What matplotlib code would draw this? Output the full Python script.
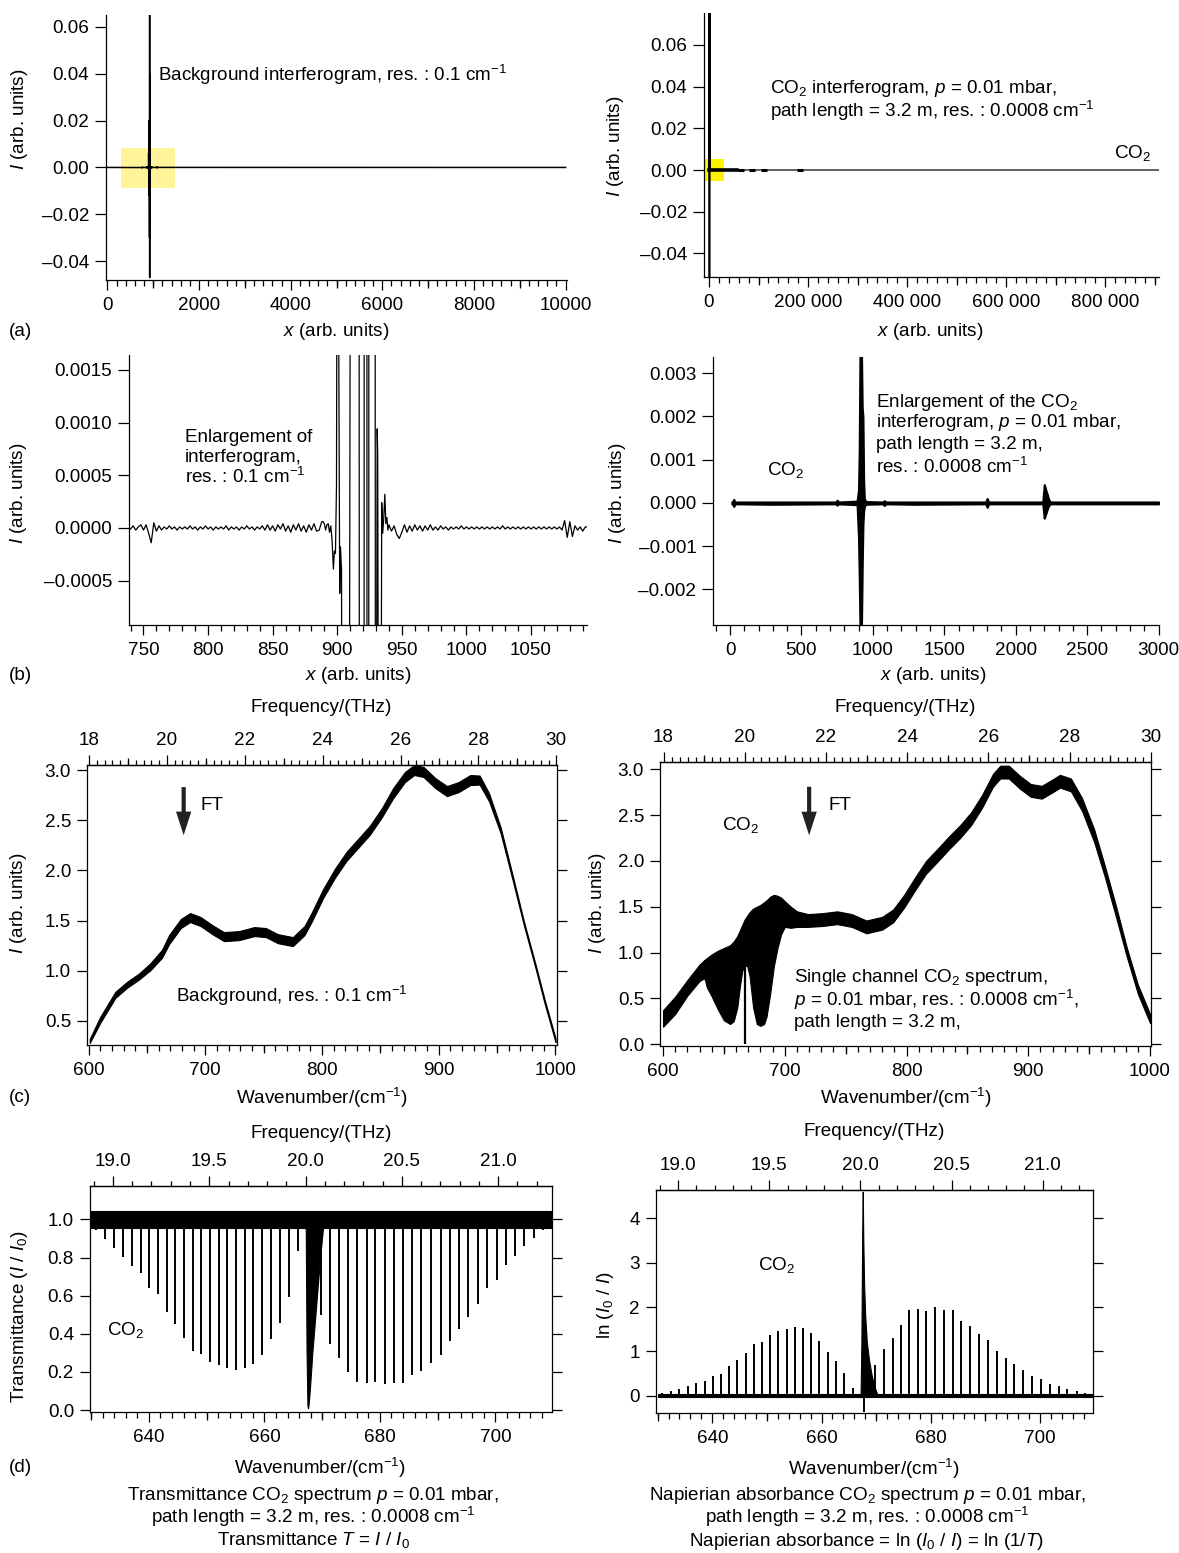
import numpy as np
import matplotlib
matplotlib.use("Agg")
import matplotlib.pyplot as plt
from matplotlib.ticker import MultipleLocator, FixedLocator, FuncFormatter

plt.rcParams["font.family"] = ["Liberation Sans", "DejaVu Sans"]
plt.rcParams["mathtext.fontset"] = "custom"
plt.rcParams["mathtext.rm"] = "Liberation Sans"
plt.rcParams["mathtext.it"] = "Liberation Sans:italic"
plt.rcParams["mathtext.bf"] = "Liberation Sans:bold"
plt.rcParams["font.size"] = 13.6
plt.rcParams["axes.linewidth"] = 0.9

# ---------------- background interferogram, res. 0.1 cm-1 ----------------
bg_scan_x = [0, 10000]                      # flat ends of the scan
# samples on x = 740, 742, ... 888 (units of 1e-5)
bg_left_y = [-1, 2, -2, 1, 3, -2, 3, -5, -14, 5,
             -3, 2, -2, 1, -1, 2, -1, 1, -2, 1,
             -1, 1, -1, 2, -1, 1, -2, 1, -1, 2,
             -1, 1, -2, 1, -1, 1, -1, 2, -2, 1,
             -1, 1, -2, 1, -1, 2, -1, 1, -2, 1,
             -1, 2, -2, 3, -2, 2, -3, 3, -1, 4,
             -3, 2, -4, 3, -2, 4, -3, 2, -4, 3,
             -2, 4, -3, -2, 6]
# centre burst
bg_burst_x = [889, 890, 891, 892, 893, 894, 895, 896, 897, 897.8,
              898.6, 899.4, 900.3, 901.2, 901.9, 902.5, 903.3, 904.2, 908, 912.5,
              916.5, 917.5, 920.5, 921.5, 922.5, 923.3, 924.2, 925.2, 928.8, 929.6,
              930.9, 931.3, 932.3, 933.6, 934.4, 935.2, 936.0, 936.8, 937.6, 938.4,
              939.2, 940.0]
bg_burst_y = [6e-5, 4e-5, -2e-5, 3e-5, 4e-5, -4e-5, 2e-5, -12e-5, -39e-5, -22e-5,
              -24e-5, 40e-5, 0.006, 0.0016, -62e-5, -18e-5, -40e-5, -0.006, -0.012, 0.02,
              0.015, -0.015, -0.03, 0.07, 0.07, -0.047, -0.01, 0.04, 0.02, -0.006,
              94e-5, 70e-5, -0.005, -0.004, 24e-5, -5e-5, 10e-5, 32e-5, 4e-5, 10e-5,
              -2e-5, 3e-5]
# samples on x = 942, 944, ... 1092 (units of 1e-5)
bg_right_y = [-3, 2, -6, -10, -4, 3, -4, 2, -3, 3,
              -2, 2, -3, 2, -2, 3, -2, 1, -2, 2,
              -1, 1, -2, 1, -1, 1, -1, 2, -1, 1,
              -1, 1, -1, 1, -1, 1, -1, 1, -1, 1,
              -1, 1, -1, 2, -1, 1, -1, 1, -1, 1,
              -1, 1, -1, 1, -1, 1, -1, 1, -1, 1,
              -1, 1, -1, 1, -1, 1, -2, 7, -9, 6,
              -8, 2, -2, 1, -3, 1]
bg_zoom_box = [300, 1480, -0.0089, 0.0085]

# ---------------- CO2 interferogram, res. 0.0008 cm-1 ----------------
co2_scan_x = [0, 912000]
co2_dense_x = [0, 57000]
co2_spots_x = [64000, 87000, 112000, 183000]
co2_burst_full_x = [880, 915, 920, 925, 960]
co2_burst_full_y = [0.0, 0.09, -0.07, 0.09, 0.0]
co2_zoom_box = [-8000, 30300, -0.0053, 0.0053]

# enlargement: envelope of the trace (units of 1e-4)
co2_ifg_x = [13, 20, 26, 32, 40, 300, 740, 750, 760, 890,
             900, 905, 910, 915, 920, 925, 930, 935, 940, 950,
             1070, 1080, 1090, 1300, 1790, 1800, 1810, 2190, 2200, 2210,
             2220, 2230, 2240, 2250, 3000]
co2_ifg_hi = [0.2, 0.3, 0.8, 0.3, 0.2, 0.2, 0.2, 0.6, 0.2, 0.4,
              3, 12, 34, 34, 34, 22, 20, 5, 1, 0.3,
              0.2, 0.5, 0.2, 0.2, 0.2, 1.0, 0.2, 0.2, 4.2, 3.0,
              2.0, 0.8, 0.3, 0.2, 0.2]
co2_ifg_lo = [-0.2, -0.3, -0.8, -0.3, -0.2, -0.3, -0.2, -0.5, -0.2, -0.4,
              -8, -17, -28, -28, -28, -15, -5, -2, -0.8, -0.3,
              -0.2, -0.6, -0.2, -0.3, -0.2, -1.0, -0.2, -0.2, -3.5, -2.5,
              -1.5, -0.6, -0.3, -0.2, -0.2]

# ---------------- background single channel spectrum ----------------
bg_spec_wn = [601, 610, 623, 633, 643, 653, 663, 669, 679, 687,
              696, 706, 716, 729, 742, 752, 762, 775, 785, 791,
              801, 811, 821, 831, 841, 851, 861, 871, 879, 887,
              897, 907, 917, 927, 935, 943, 953, 963, 973, 983,
              991, 1000]
bg_spec_mid = [0.30, 0.51, 0.76, 0.86, 0.94, 1.04, 1.17, 1.31, 1.47, 1.53,
               1.49, 1.41, 1.34, 1.35, 1.39, 1.38, 1.32, 1.29, 1.40, 1.53,
               1.77, 1.97, 2.14, 2.27, 2.40, 2.57, 2.77, 2.93, 3.00, 2.98,
               2.87, 2.79, 2.83, 2.90, 2.90, 2.73, 2.40, 1.94, 1.47, 1.04,
               0.68, 0.31]
bg_spec_half = [0.02, 0.03, 0.03, 0.03, 0.03, 0.035, 0.04, 0.045, 0.045, 0.045,
                0.045, 0.045, 0.045, 0.045, 0.045, 0.045, 0.045, 0.045, 0.045, 0.045,
                0.045, 0.045, 0.045, 0.045, 0.045, 0.045, 0.05, 0.05, 0.05, 0.05,
                0.05, 0.05, 0.05, 0.05, 0.045, 0.04, 0.03, 0.025, 0.02, 0.02,
                0.02, 0.02]

# ---------------- CO2 single channel spectrum ----------------
co2_sc_wn = [600, 610, 620, 630, 634, 636, 640, 645, 650, 655,
             658, 661, 663, 665, 667, 669, 671, 674, 677, 680,
             683, 685, 688, 691, 694, 697, 700, 705, 710, 719,
             731, 743, 755, 767, 780, 789, 798, 807, 816, 826,
             835, 844, 853, 862, 871, 877, 884, 893, 902, 911,
             920, 926, 935, 944, 954, 963, 972, 981, 990, 1000]
co2_sc_hi = [0.37, 0.52, 0.70, 0.87, 0.92, 0.94, 0.98, 1.02, 1.05, 1.08,
             1.12, 1.18, 1.24, 1.30, 1.36, 1.40, 1.44, 1.48, 1.50, 1.52,
             1.55, 1.57, 1.61, 1.63, 1.62, 1.60, 1.56, 1.50, 1.45, 1.42,
             1.43, 1.45, 1.42, 1.35, 1.39, 1.47, 1.63, 1.82, 2.00, 2.14,
             2.27, 2.39, 2.53, 2.72, 2.95, 3.04, 3.04, 2.93, 2.84, 2.82,
             2.89, 2.94, 2.90, 2.69, 2.35, 1.94, 1.51, 1.05, 0.65, 0.33]
co2_sc_lo = [0.19, 0.33, 0.53, 0.69, 0.72, 0.62, 0.52, 0.38, 0.26, 0.22,
             0.25, 0.40, 0.62, 0.80, 0.85, 0.86, 0.75, 0.40, 0.22, 0.20,
             0.22, 0.30, 0.55, 0.85, 1.05, 1.20, 1.28, 1.27, 1.28, 1.28,
             1.29, 1.31, 1.28, 1.21, 1.25, 1.33, 1.49, 1.68, 1.86, 2.00,
             2.13, 2.25, 2.39, 2.58, 2.81, 2.90, 2.90, 2.79, 2.70, 2.68,
             2.75, 2.80, 2.76, 2.55, 2.21, 1.82, 1.39, 0.95, 0.55, 0.23]
co2_sc_deep_wn = [667.4]
co2_sc_deep_min = [0.0]

# ---------------- nu2 band of CO2: P, Q, R branches ----------------
line_wn = [630.8, 632.4, 634.0, 635.5, 637.1, 638.6, 640.1, 641.6, 643.1, 644.6,
           646.1, 647.6, 649.1, 650.6, 652.1, 653.6, 655.1, 656.6, 658.1, 659.6,
           661.1, 662.7, 664.2, 665.8, 669.8, 671.4, 673.0, 674.5, 676.1, 677.7,
           679.2, 680.8, 682.4, 684.0, 685.6, 687.2, 688.9, 690.5, 692.1, 693.7,
           695.3, 696.9, 698.5, 700.2, 701.8, 703.4, 705.0, 706.7, 708.3]
line_abs = [0.06, 0.11, 0.16, 0.22, 0.28, 0.33, 0.45, 0.50, 0.66, 0.80,
            0.97, 1.17, 1.22, 1.38, 1.45, 1.50, 1.55, 1.52, 1.42, 1.24,
            0.99, 0.78, 0.52, 0.18, 0.70, 1.06, 1.30, 1.60, 1.93, 1.95,
            1.90, 2.00, 1.94, 1.94, 1.69, 1.58, 1.39, 1.25, 1.01, 0.85,
            0.72, 0.59, 0.45, 0.38, 0.27, 0.21, 0.15, 0.10, 0.06]
q_wn = [667.15, 667.3, 667.45, 667.55, 667.65, 667.8, 668.0, 668.3, 668.7, 669.2, 669.7, 670.3]
q_abs = [0.0, 1.2, 3.7, 4.6, 3.5, 2.5, 1.8, 1.2, 0.8, 0.45, 0.2, 0.0]
q_dip_wn = [667.75]
q_dip_abs = [-0.36]
noise_wn = [630, 710]
tr_noise_lo = [0.955, 0.955]
tr_noise_hi = [1.045, 1.045]
ab_noise_lo = [-0.03, -0.03]
ab_noise_hi = [0.04, 0.04]

# ---------------- layout helpers (pixel based) ----------------
W, H = 1179, 1553


def rect(l, t, r, b):
    return [l / W, 1 - b / H, (r - l) / W, (b - t) / H]


def ftext(x, y, s, **kw):
    kw.setdefault("ha", "center")
    kw.setdefault("va", "center")
    fig.text(x / W, 1 - y / H, s, **kw)


def dash_fmt(fmt):
    # tick labels with an en dash for negatives
    return FuncFormatter(lambda v, p: (fmt % v).replace("-", "\u2013"))


def wn2thz(w):
    return np.asarray(w) * 0.0299792458


def thz2wn(f):
    return np.asarray(f) / 0.0299792458


def mid_ticks(ax, positions, location="bottom", functions=None, length=6):
    if functions is None:
        sec = ax.secondary_xaxis(location)
    else:
        sec = ax.secondary_xaxis(location, functions=functions)
    sec.xaxis.set_major_locator(FixedLocator(positions))
    sec.tick_params(direction="out", length=length, width=0.9,
                    labelbottom=False, labeltop=False)
    sec.spines[location].set_visible(False)
    return sec


def open_axes(ax):
    for s in ("top", "right"):
        ax.spines[s].set_visible(False)
    ax.tick_params(axis="y", direction="out", length=8, width=0.9, pad=4)
    ax.tick_params(axis="x", which="major", direction="out", length=7.5, width=0.9, pad=5)
    ax.tick_params(axis="x", which="minor", direction="out", length=4.5, width=0.9)


def boxed_axes(ax, top_ticks, top_minor, top_fmt, top_mid=None):
    ax.tick_params(axis="y", which="major", direction="out", left=True, right=True,
                   length=7.5, width=0.9, pad=4)
    ax.tick_params(axis="x", which="major", direction="out", length=7.5, width=0.9, pad=5)
    ax.tick_params(axis="x", which="minor", direction="out", length=4.5, width=0.9)
    sec = ax.secondary_xaxis("top", functions=(wn2thz, thz2wn))
    sec.xaxis.set_major_locator(FixedLocator(top_ticks))
    sec.xaxis.set_minor_locator(MultipleLocator(top_minor))
    sec.xaxis.set_major_formatter(dash_fmt(top_fmt))
    sec.tick_params(which="major", direction="out", length=7.5, width=0.9, pad=4)
    sec.tick_params(which="minor", direction="out", length=3.5, width=0.9)
    if top_mid is not None:
        mid_ticks(ax, top_mid, location="top", functions=(wn2thz, thz2wn), length=5)


fig = plt.figure(figsize=(W / 100, H / 100), dpi=100)

# ================= (a) left: background interferogram =================
bg_x = np.concatenate([[bg_scan_x[0]], np.arange(740, 889, 2), bg_burst_x,
                       np.arange(942, 1093, 2), [bg_scan_x[1]]])
bg_y = np.concatenate([[0.0], np.array(bg_left_y) * 1e-5, bg_burst_y,
                       np.array(bg_right_y) * 1e-5, [0.0]])

ax = fig.add_axes(rect(106, 15, 567, 280))
open_axes(ax)
ax.fill_between(bg_zoom_box[:2], bg_zoom_box[2], bg_zoom_box[3], color="#fff49a", lw=0, zorder=1)
ax.plot(bg_x, bg_y, color="black", lw=1.1, zorder=2)
ax.set_xlim(-30, 10030)
ax.set_ylim(-0.048, 0.065)
ax.xaxis.set_major_locator(MultipleLocator(2000))
ax.xaxis.set_minor_locator(MultipleLocator(200))
mid_ticks(ax, np.arange(1000, 10000, 2000))
ax.yaxis.set_major_locator(FixedLocator([-0.04, -0.02, 0.0, 0.02, 0.04, 0.06]))
ax.yaxis.set_major_formatter(dash_fmt("%.2f"))
ax.text(1100, 0.0396, r"Background interferogram, res. : 0.1 cm$^{-1}$", va="center")

# ================= (a) right: CO2 interferogram =================
ax = fig.add_axes(rect(704, 13, 1159, 277))
open_axes(ax)
ax.fill_between(co2_zoom_box[:2], co2_zoom_box[2], co2_zoom_box[3], color="#fff200", lw=0, zorder=1)
ax.plot(co2_scan_x, [0, 0], color="#555555", lw=1.3, zorder=2)
ax.plot(co2_dense_x, [0, 0], color="black", lw=2.6, zorder=3)
ax.plot(co2_spots_x, np.zeros(len(co2_spots_x)), "_", color="black", ms=4, mew=2.2, zorder=3)
ax.plot(co2_burst_full_x, co2_burst_full_y, color="black", lw=1.2, zorder=3)
ax.set_xlim(-10100, 909000)
ax.set_ylim(-0.0513, 0.0753)
ax.xaxis.set_major_locator(MultipleLocator(200000))
ax.xaxis.set_minor_locator(MultipleLocator(20000))
ax.xaxis.set_major_formatter(FuncFormatter(lambda v, p: f"{int(round(v)):,}".replace(",", " ")))
mid_ticks(ax, np.arange(100000, 909000, 200000))
ax.yaxis.set_major_locator(FixedLocator([-0.04, -0.02, 0.0, 0.02, 0.04, 0.06]))
ax.yaxis.set_major_formatter(dash_fmt("%.2f"))
ax.text(123000, 0.0389, r"CO$_2$ interferogram, $p$ = 0.01 mbar,", va="center")
ax.text(123000, 0.0285, r"path length = 3.2 m, res. : 0.0008 cm$^{-1}$", va="center")
ax.text(893000, 0.0080, r"CO$_2$", ha="right", va="center")

# ================= (b) left: enlargement of background interferogram =================
ax = fig.add_axes(rect(129, 355, 587, 625))
open_axes(ax)
ax.plot(bg_x, bg_y, color="black", lw=0.9)
ax.set_xlim(738.8, 1093.3)
ax.set_ylim(-0.00092, 0.00164)
ax.xaxis.set_major_locator(MultipleLocator(50))
ax.xaxis.set_minor_locator(MultipleLocator(10))
ax.yaxis.set_major_locator(FixedLocator([-0.0005, 0.0, 0.0005, 0.0010, 0.0015]))
ax.yaxis.set_major_formatter(dash_fmt("%.4f"))
ax.text(782, 0.00086, "Enlargement of", va="center")
ax.text(782, 0.00067, "interferogram,", va="center")
ax.text(782, 0.00048, r"res. : 0.1 cm$^{-1}$", va="center")

# ================= (b) right: enlargement of CO2 interferogram =================
ax = fig.add_axes(rect(713, 357, 1159, 625))
open_axes(ax)
ax.fill_between(co2_ifg_x, np.array(co2_ifg_lo) * 1e-4, np.array(co2_ifg_hi) * 1e-4,
                color="black", lw=1.6, edgecolor="black")
ax.set_xlim(-119, 3003)
ax.set_ylim(-0.00282, 0.00337)
ax.xaxis.set_major_locator(MultipleLocator(500))
ax.xaxis.set_minor_locator(MultipleLocator(100))
ax.yaxis.set_major_locator(FixedLocator([-0.002, -0.001, 0.0, 0.001, 0.002, 0.003]))
ax.yaxis.set_major_formatter(dash_fmt("%.3f"))
for yv, s in zip([0.00231, 0.00185, 0.00134, 0.00083],
                 [r"Enlargement of the CO$_2$", r"interferogram, $p$ = 0.01 mbar,",
                  "path length = 3.2 m,", r"res. : 0.0008 cm$^{-1}$"]):
    ax.text(1024, yv, s, va="center")
ax.text(259, 0.00076, r"CO$_2$", va="center")

# ================= (c) left: background spectrum =================
ax = fig.add_axes(rect(87, 765, 557, 1045))
mid = np.array(bg_spec_mid)
half = np.array(bg_spec_half)
ax.fill_between(bg_spec_wn, mid - half, mid + half, color="black", lw=0.8, edgecolor="black")
ax.set_xlim(598.7, 1001.3)
ax.set_ylim(0.26, 3.05)
ax.xaxis.set_major_locator(MultipleLocator(100))
ax.xaxis.set_minor_locator(MultipleLocator(10))
mid_ticks(ax, [650, 750, 850, 950])
ax.yaxis.set_major_locator(FixedLocator([0.5, 1.0, 1.5, 2.0, 2.5, 3.0]))
ax.yaxis.set_major_formatter(dash_fmt("%.1f"))
boxed_axes(ax, list(range(18, 31, 2)), 0.2, "%d", top_mid=list(range(19, 30, 2)))
ax.annotate("", xy=(681.5, 2.35), xytext=(681.5, 2.83),
            arrowprops=dict(width=3, headwidth=11, headlength=17, color="#222222", lw=0))
ax.text(696, 2.65, "FT", va="center")
ax.text(675, 0.75, r"Background, res. : 0.1 cm$^{-1}$", va="center")

# ================= (c) right: CO2 single channel spectrum =================
ax = fig.add_axes(rect(660, 762, 1151, 1046))
ax.fill_between(co2_sc_wn, co2_sc_lo, co2_sc_hi, color="black", lw=0.8, edgecolor="black")
ax.vlines(co2_sc_deep_wn, co2_sc_deep_min, 0.9, color="black", lw=1.6)
ax.set_xlim(597.5, 1000.8)
ax.set_ylim(-0.02, 3.08)
ax.xaxis.set_major_locator(MultipleLocator(100))
ax.xaxis.set_minor_locator(MultipleLocator(10))
mid_ticks(ax, [650, 750, 850, 950])
ax.yaxis.set_major_locator(FixedLocator([0.0, 0.5, 1.0, 1.5, 2.0, 2.5, 3.0]))
ax.yaxis.set_major_formatter(dash_fmt("%.1f"))
boxed_axes(ax, list(range(18, 31, 2)), 0.2, "%d", top_mid=list(range(19, 30, 2)))
ax.annotate("", xy=(720, 2.28), xytext=(720, 2.81),
            arrowprops=dict(width=3, headwidth=11, headlength=17, color="#222222", lw=0))
ax.text(735.7, 2.61, "FT", va="center")
ax.text(648.8, 2.39, r"CO$_2$", va="center")
ax.text(707.3, 0.73, r"Single channel CO$_2$ spectrum,", va="center")
ax.text(707.3, 0.48, r"$p$ = 0.01 mbar, res. : 0.0008 cm$^{-1}$,", va="center")
ax.text(707.3, 0.24, "path length = 3.2 m,", va="center")

# ================= (d) left: transmittance =================
line_abs_arr = np.array(line_abs)
q_abs_arr = np.array(q_abs)
ax = fig.add_axes(rect(90, 1186, 552, 1412))
ax.fill_between(noise_wn, tr_noise_lo, tr_noise_hi, color="black", lw=0.8, edgecolor="black")
ax.vlines(line_wn, np.exp(-line_abs_arr), 1.0, color="black", lw=1.4)
ax.fill_between(q_wn, np.exp(-q_abs_arr), 1.0, color="black", lw=0.8, edgecolor="black")
ax.set_xlim(629.8, 709.8)
ax.set_ylim(-0.01, 1.175)
ax.xaxis.set_major_locator(MultipleLocator(20))
ax.xaxis.set_minor_locator(MultipleLocator(2))
mid_ticks(ax, [630, 650, 670, 690])
ax.yaxis.set_major_locator(FixedLocator([0.0, 0.2, 0.4, 0.6, 0.8, 1.0]))
ax.yaxis.set_major_formatter(dash_fmt("%.1f"))
boxed_axes(ax, [19.0, 19.5, 20.0, 20.5, 21.0], 0.1, "%.1f")
ax.text(632.7, 0.42, r"CO$_2$", va="center")

# ================= (d) right: Napierian absorbance =================
ax = fig.add_axes(rect(656, 1190, 1093, 1413))
ax.fill_between(noise_wn, ab_noise_lo, ab_noise_hi, color="black", lw=0.8, edgecolor="black")
ax.vlines(line_wn, 0.0, line_abs_arr, color="black", lw=1.4)
ax.fill_between(q_wn, 0.0, q_abs_arr, color="black", lw=0.8, edgecolor="black")
ax.vlines(q_dip_wn, q_dip_abs, 0.0, color="black", lw=1.4)
ax.set_xlim(629.7, 709.7)
ax.set_ylim(-0.39, 4.64)
ax.xaxis.set_major_locator(MultipleLocator(20))
ax.xaxis.set_minor_locator(MultipleLocator(2))
mid_ticks(ax, [630, 650, 670, 690])
ax.yaxis.set_major_locator(FixedLocator([0, 1, 2, 3, 4]))
ax.yaxis.set_major_formatter(dash_fmt("%d"))
boxed_axes(ax, [19.0, 19.5, 20.0, 20.5, 21.0], 0.1, "%.1f")
ax.text(648.3, 2.95, r"CO$_2$", va="center")

# ================= axis labels, panel tags, captions =================
xl = r"$x$ (arb. units)"
yl = r"$I$ (arb. units)"
wl = r"Wavenumber/(cm$^{-1}$)"
fl = "Frequency/(THz)"

ftext(336, 332, xl)
ftext(930, 332, xl)
ftext(358, 675, xl)
ftext(933, 675, xl)
ftext(322, 1098, wl)
ftext(906, 1098, wl)
ftext(320, 1468, wl)
ftext(874, 1469, wl)
ftext(321, 708, fl)
ftext(905, 708, fl)
ftext(321, 1133, fl)
ftext(874, 1132, fl)

ftext(20, 119, yl, rotation=90)
ftext(615, 146, yl, rotation=90)
ftext(19, 493, yl, rotation=90)
ftext(618, 493, yl, rotation=90)
ftext(19, 903, yl, rotation=90)
ftext(598, 903, yl, rotation=90)
ftext(20, 1317, r"Transmittance ($I$ / $I_0$)", rotation=90)
ftext(606, 1305, r"ln ($I_0$ / $I$)", rotation=90)

for tag, y in zip(["(a)", "(b)", "(c)", "(d)"], [332, 675, 1098, 1468]):
    ftext(9, y, tag, ha="left")

ftext(313, 1495, r"Transmittance CO$_2$ spectrum $p$ = 0.01 mbar,")
ftext(313, 1517, r"path length = 3.2 m, res. : 0.0008 cm$^{-1}$")
ftext(313, 1540, r"Transmittance $T$ = $I$ / $I_0$")
ftext(867, 1495, r"Napierian absorbance CO$_2$ spectrum $p$ = 0.01 mbar,")
ftext(867, 1517, r"path length = 3.2 m, res. : 0.0008 cm$^{-1}$")
ftext(867, 1541, r"Napierian absorbance = ln ($I_0$ / $I$) = ln (1/$T$)")

fig.savefig("out.png", dpi=100)
